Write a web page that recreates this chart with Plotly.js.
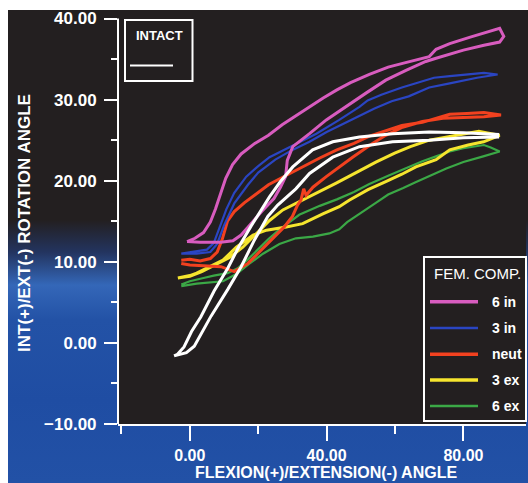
<!DOCTYPE html>
<html>
<head>
<meta charset="utf-8">
<script src="https://cdn.plot.ly/plotly-3.0.1.min.js"></script>
<style>
  html, body { margin:0; padding:0; background:#ffffff; }
  #chart {
    width:528px; height:483px;
    background:
      linear-gradient(#ffffff,#ffffff) 0 0 / 100% 10px no-repeat,
      linear-gradient(#ffffff,#ffffff) 0 0 / 8px 100% no-repeat,
      linear-gradient(180deg, #231f20 0px, #231f20 220px, #23345f 252px, #3467b8 285px, #2352a6 320px, #1f4da3 400px, #2251a6 483px);
  }
</style>
</head>
<body>
<div id="chart"></div>
<script>
// ---------------- data ----------------
const seriesNames  = ["6 in", "3 in", "neut", "3 ex", "6 ex"];
const seriesColors = ["#d85cbf", "#2a45c2", "#f2411f", "#f6e52e", "#3ba846"];
const seriesWidths = [3, 2.2, 3, 3, 2.2];
const intactName = "INTACT";
const legendTitle = "FEM. COMP.";

// 6 in (pink) loop
const in6X = [-0.8,1.5,4,6,7.5,9,10.5,12.5,15,19,23,27,31,35,39,43,47,52.5,58,62.5,66,70,72,76,82,88,90.6,91.8,90.6,
              86,80,72,69,63.2,57.3,51.5,45.7,39.9,35,30.1,28.5,28,26.5,24.6,21,18,15,12.6,9,3,-0.8];
const in6Y = [12.5,12.9,13.6,14.9,16.5,18.5,20.3,22,23.3,24.6,25.6,26.9,28,29.2,30.2,31.2,32.1,33.1,34,34.5,34.9,35.3,36.2,36.9,37.7,38.5,38.8,37.8,37.1,
              36.7,36.1,35.1,34.7,33.6,32.4,30.8,29.1,27.5,25.8,24.2,22.5,20.5,19.2,17.8,16.2,14.7,13.3,12.6,12.4,12.4,12.5];

// 3 in (blue) loop
const in3X = [-2.5,1,5,7,8.5,10.7,13,16.5,20,23.3,30,37,43.7,49.6,52,56,62,66,71.4,76,81,86,90,
              84,76,70,64,59,54,49.6,44,40,35,30,25,20,17,13,10,8,6,2,-2.5];
const in3Y = [11.0,11.2,11.5,12.3,14,16.5,18.5,20.5,21.8,22.9,24.3,25.8,27.5,29.1,29.9,30.6,31.5,32.0,32.7,32.9,33.1,33.3,33.1,
              32.7,32.0,31.5,30.4,29.8,28.9,28.0,26.8,26.0,24.8,23.8,22.6,21.0,19.5,17.2,14.5,12.2,11.2,11.0,11.0];

// neut (red) loop
const neutX = [-2.5,0,3,6,8,9.5,11,13,16,20,23,27,32,38,43,48,52.5,57,62,68,72,76,81,86,91,
               86,80,74,68,62.2,57.3,53.4,47.6,43.7,39.9,36,34,33.3,32.5,31.5,30,27.6,23.8,20,17,13,9.1,4,0,-2.5];
const neutY = [10.2,10.3,10.1,10.4,11.2,12.8,15,16.2,17.3,18.6,19.5,20.4,21.5,22.8,23.8,24.6,25.5,26.1,26.8,27.2,27.7,28.2,28.3,28.4,28.1,
               27.9,27.8,27.7,27.3,26.6,25.6,24.6,22.9,21.7,20.5,19.2,18.2,19.0,17.6,17.0,15.6,14.3,12.7,11.1,9.8,8.8,9.4,9.5,9.6,9.8];

// 3 ex (yellow) loop
const ex3X = [-3.5,0,3.5,7.5,11.5,15.5,19.4,23.3,27.2,33,38.4,42.8,48.2,54.4,59.9,64.5,70,75,80,84.5,87,90.6,
              85.9,81.4,76,72,66.1,62,57.3,52.1,46.6,43.7,38.9,33,28.2,22.4,18.5,13.6,9.7,5.8,2,0,-3.5];
const ex3Y = [8.0,8.2,8.8,9.7,10.5,11.8,13.5,15.1,16.4,17.6,18.8,19.7,20.9,22.3,23.4,24.2,25.0,25.4,25.8,26.1,25.9,25.6,
              24.8,24.4,23.8,22.6,21.7,20.8,19.9,18.9,17.6,16.8,15.9,14.7,14.3,13.9,13.3,11.8,10.2,9.4,8.6,8.3,8.0];

// 6 ex (green) loop
const ex6X = [-2.5,0,4,7,11,14,17,20,23,26,29,32,38,43,48,52.5,58,62.5,68,72,76,80,86,88,90.6,
              85.8,80,75,70,66,62.4,58,54.5,51,48.7,46,43.7,40.8,36,31,26.2,21.4,17.5,13.6,9.7,5,2,-2.5];
const ex6Y = [7.2,7.6,8.0,8.3,8.6,9.2,10.3,11.6,12.8,13.9,14.8,15.8,16.9,17.7,18.6,19.6,20.6,21.4,22.4,23.0,23.6,24.0,24.4,24.1,23.6,
              23.0,22.3,21.5,20.5,19.8,19.1,18.3,17.3,16.3,15.6,14.9,14.0,13.5,13.1,12.9,12.2,11.0,9.8,8.5,7.6,7.4,7.3,7.0];

// INTACT (white) loop
const intactX = [-4.6,-3.6,-1.7,0.5,3.2,7.1,11.1,14,17.9,20.8,23.3,26.5,30.1,35.9,41.8,49.6,59.3,70,80,90,
                 90,80,70,59.3,49.6,41.8,35,31,28.2,25.7,22.8,18.9,15,11.1,6.2,3,1.3,-1,-4.6];
const intactY = [-1.6,-1.4,-0.5,1.4,3.2,6.4,9.2,11.6,14.4,16.4,18.0,19.9,21.7,23.8,24.8,25.4,25.8,26.0,25.9,25.7,
                 25.4,25.3,25.0,24.8,24.2,22.9,20.9,19.0,18.0,17.0,15.6,12.7,9.4,6.6,3.3,1.0,-0.4,-1.2,-1.6];

const xTickStep = 40, xMinorStep = 20, yTickStep = 10, yMinorStep = 5;
const xRange = [-21, 98.3], yRange = [-10, 41.05];
const yAxisLineTop = 40;

// ---------------- layout helpers ----------------
const M = {l:118, r:2, t:10, b:59};
const W = 528, H = 483;
const PW = W - M.l - M.r, PH = H - M.t - M.b;
const px = x => (x - M.l) / PW;          // pixel -> paper x
const py = y => (M.t + PH - y) / PH;     // pixel -> paper y

const FONT = "Liberation Sans, Arial, Helvetica, sans-serif";

const xs = [in6X, in3X, neutX, ex3X, ex6X];
const ys = [in6Y, in3Y, neutY, ex3Y, ex6Y];

const traces = [];
// draw order: green, yellow, red, blue, pink, then white on top
[4,3,2,1,0].forEach(i => {
  traces.push({x: xs[i], y: ys[i], type:'scatter', mode:'lines', name: seriesNames[i],
    line:{color: seriesColors[i], width: seriesWidths[i]}, showlegend:false, hoverinfo:'skip'});
});
traces.push({x: intactX, y: intactY, type:'scatter', mode:'lines', name: intactName,
  line:{color:'#ffffff', width:3}, showlegend:false, hoverinfo:'skip'});

const shapes = [];
const annotations = [];

// y axis line (from -10 to 40 only)
shapes.push({type:'line', xref:'paper', yref:'y', x0:0, x1:0, y0:yRange[0], y1:yAxisLineTop,
  line:{color:'#ffffff', width:2}, layer:'above'});

// INTACT box
shapes.push({type:'rect', xref:'paper', yref:'paper', x0:px(125), x1:px(192.5), y0:py(81), y1:py(20),
  line:{color:'#ffffff', width:2}, layer:'above'});
shapes.push({type:'line', xref:'paper', yref:'paper', x0:px(130), x1:px(173), y0:py(65.5), y1:py(65.5),
  line:{color:'#ffffff', width:2.2}, layer:'above'});
annotations.push({xref:'paper', yref:'paper', x:px(159.5), y:py(35), text:intactName, showarrow:false,
  xanchor:'center', yanchor:'middle', font:{family:FONT, size:13, color:'#ffffff', weight:'bold'}});

// FEM. COMP. legend box
shapes.push({type:'rect', xref:'paper', yref:'paper', x0:px(424), x1:px(526), y0:py(421), y1:py(257),
  line:{color:'#ffffff', width:2}, fillcolor:'#231f20', layer:'above'});
annotations.push({xref:'paper', yref:'paper', x:px(477), y:py(273.5), text:legendTitle, showarrow:false,
  xanchor:'center', yanchor:'middle', font:{family:FONT, size:15, color:'#ffffff'}});
const entryY = [301.7, 328, 354.3, 380, 406];
seriesNames.forEach((nm, i) => {
  shapes.push({type:'line', xref:'paper', yref:'paper', x0:px(430), x1:px(478), y0:py(entryY[i]), y1:py(entryY[i]),
    line:{color: seriesColors[i], width: seriesWidths[i] + 0.5}, layer:'above'});
  annotations.push({xref:'paper', yref:'paper', x:px(490), y:py(entryY[i]), text:nm, showarrow:false,
    xanchor:'left', yanchor:'middle', font:{family:FONT, size:14, color:'#ffffff', weight:'bold'}});
});

// axis titles
annotations.push({xref:'paper', yref:'paper', x:px(24), y:py(223), text:'INT(+)/EXT(-) ROTATION ANGLE',
  textangle:-90, showarrow:false, xanchor:'center', yanchor:'middle',
  font:{family:FONT, size:17, color:'#ffffff', weight:'bold'}});
annotations.push({xref:'paper', yref:'paper', x:px(326), y:py(472.5), text:'FLEXION(+)/EXTENSION(-) ANGLE',
  showarrow:false, xanchor:'center', yanchor:'middle',
  font:{family:FONT, size:16, color:'#ffffff', weight:'bold'}});

const yTickFont = {family:FONT, size:17, color:'#ffffff', weight:'bold'};
const xTickFont = {family:FONT, size:16, color:'#ffffff', weight:'bold'};

const layout = {
  width:W, height:H, margin:M,
  paper_bgcolor:'rgba(0,0,0,0)', plot_bgcolor:'#231f20',
  showlegend:false,
  xaxis:{range:xRange, showgrid:false, zeroline:false, showline:true, linecolor:'#ffffff', linewidth:2,
    ticks:'outside', tick0:0, dtick:xTickStep, ticklen:15, tickwidth:2, tickcolor:'#ffffff',
    tickformat:'.2f', tickfont:xTickFont, ticklabelstandoff:1,
    minor:{ticks:'outside', tick0:0, dtick:xMinorStep, ticklen:8, tickwidth:2, tickcolor:'#ffffff', showgrid:false}},
  yaxis:{range:yRange, showgrid:false, zeroline:false, showline:false,
    ticks:'outside', tick0:0, dtick:yTickStep, ticklen:13, tickwidth:2, tickcolor:'#ffffff',
    tickformat:'.2f', tickfont:yTickFont, ticklabelstandoff:4,
    minor:{ticks:'outside', tick0:0, dtick:yMinorStep, ticklen:6, tickwidth:2, tickcolor:'#ffffff', showgrid:false}},
  shapes:shapes, annotations:annotations
};

Plotly.newPlot('chart', traces, layout, {staticPlot:true, displayModeBar:false});
</script>
</body>
</html>
